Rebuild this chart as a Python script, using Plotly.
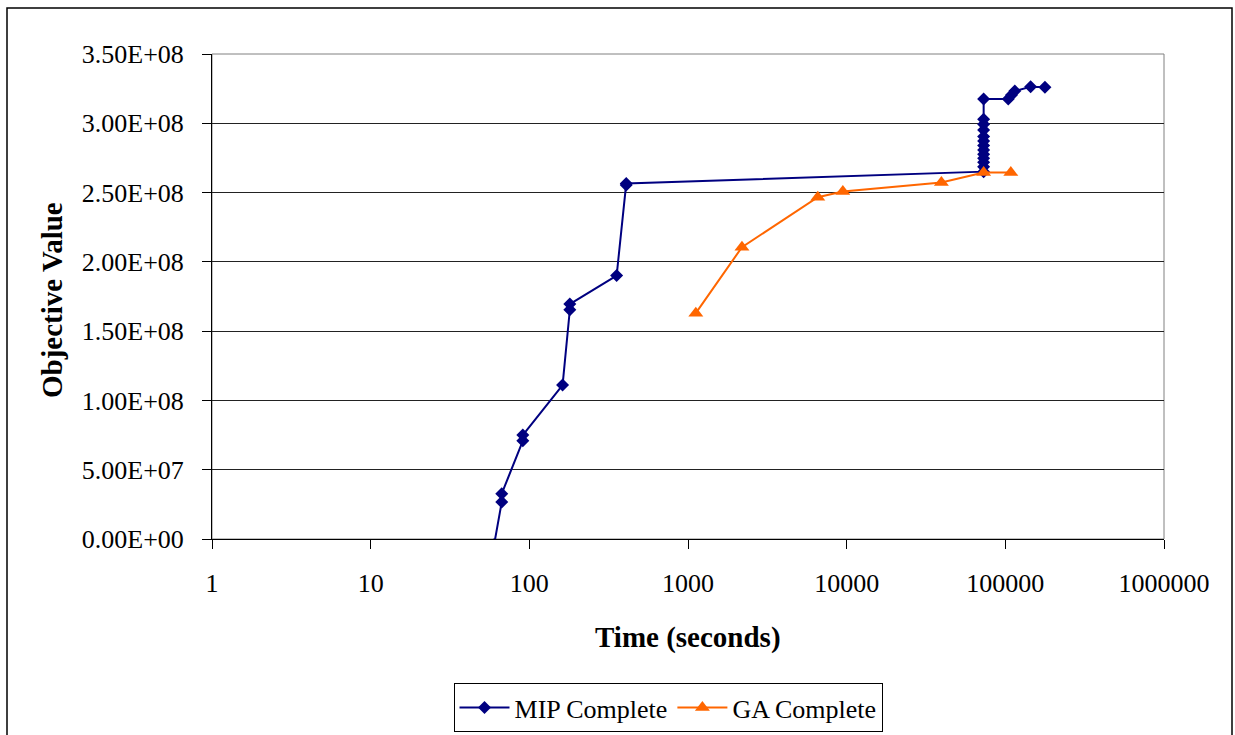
import plotly.graph_objects as go

# MIP solver progress: elapsed time (s) and best objective found
mip_time = [60, 67, 67, 91, 91, 162, 180, 180, 355, 408, 408,
            73000, 73000, 73000, 73000, 73000, 73000, 73000, 73000,
            73000, 73000, 73000, 73000, 73000,
            104300, 109400, 114800, 144300, 177700]
mip_value = [-4.0e6, 2.67e7, 3.27e7, 7.09e7, 7.50e7, 1.111e8, 1.654e8, 1.695e8,
             1.901e8, 2.555e8, 2.565e8,
             2.651e8, 2.687e8, 2.719e8, 2.748e8, 2.777e8, 2.808e8, 2.839e8,
             2.872e8, 2.904e8, 2.952e8, 2.993e8, 3.029e8, 3.175e8,
             3.175e8, 3.204e8, 3.233e8, 3.264e8, 3.260e8]

# Genetic algorithm progress
ga_time = [1120, 2188, 6577, 9460, 39540, 73000, 108300]
ga_value = [1.630e8, 2.106e8, 2.466e8, 2.507e8, 2.572e8, 2.644e8, 2.644e8]

x_ticks = [1, 10, 100, 1000, 10000, 100000, 1000000]
y_ticks = [0, 5e7, 1e8, 1.5e8, 2e8, 2.5e8, 3e8, 3.5e8]
y_tick_text = [f"{v:.2E}" for v in y_ticks]

FONT = "Liberation Serif, Times New Roman, serif"

fig = go.Figure()
fig.add_trace(go.Scatter(
    x=mip_time, y=mip_value, name="MIP Complete", mode="lines+markers",
    line=dict(color="#000080", width=2),
    marker=dict(symbol="diamond", size=10, color="#000080"),
))
fig.add_trace(go.Scatter(
    x=ga_time, y=ga_value, name="GA Complete", mode="lines+markers",
    line=dict(color="#FF6600", width=2),
    marker=dict(symbol="triangle-up", size=13, color="#FF6600"),
))

L, R, T, B = 212, 71, 54, 196
W, H = 1235, 735
pw, ph = W - L - R, H - T - B

def px_x(p):
    return (p - L) / pw

def px_y(p):
    return (H - B - p) / ph

fig.update_layout(
    width=W, height=H,
    margin=dict(l=L, r=R, t=T, b=B, autoexpand=False),
    paper_bgcolor="white", plot_bgcolor="white",
    font=dict(family=FONT, size=26, color="black"),
    showlegend=True,
    legend=dict(
        orientation="h", x=0.479, xanchor="center", y=px_y(683), yanchor="top",
        bordercolor="black", borderwidth=1, bgcolor="white",
        font=dict(family=FONT, size=26), itemwidth=50,
        tracegroupgap=0,
    ),
    xaxis=dict(
        type="log", range=[0, 6], tickvals=x_ticks,
        ticktext=[str(v) for v in x_ticks],
        showgrid=False, zeroline=False,
        showline=True, linecolor="black", linewidth=1,
        ticks="outside", ticklen=9, tickcolor="black",
        ticklabelstandoff=12, automargin=False,
    ),
    yaxis=dict(
        range=[0, 3.5e8], tickvals=y_ticks, ticktext=y_tick_text,
        showgrid=True, gridcolor="#222222", gridwidth=1, zeroline=False,
        showline=True, linecolor="black", linewidth=1,
        ticks="outside", ticklen=9, tickcolor="black",
        ticklabelstandoff=13, automargin=False,
    ),
    shapes=[
        # plot area border
        dict(type="rect", xref="paper", yref="paper", x0=0, x1=1, y0=0, y1=1,
             line=dict(color="#808080", width=1), layer="below"),
        # chart frame
        dict(type="rect", xref="paper", yref="paper",
             x0=px_x(7), x1=px_x(1232), y0=px_y(745), y1=px_y(8),
             line=dict(color="black", width=1.5)),
    ],
    annotations=[
        dict(text="<b>Time (seconds)</b>", xref="paper", yref="paper",
             x=0.5, y=px_y(637), xanchor="center", yanchor="middle",
             showarrow=False, font=dict(family=FONT, size=29)),
        dict(text="<b>Objective Value</b>", xref="paper", yref="paper",
             x=px_x(52), y=px_y(300), xanchor="center", yanchor="middle",
             textangle=-90, showarrow=False, font=dict(family=FONT, size=29)),
    ],
)

fig.write_html("out.html")
